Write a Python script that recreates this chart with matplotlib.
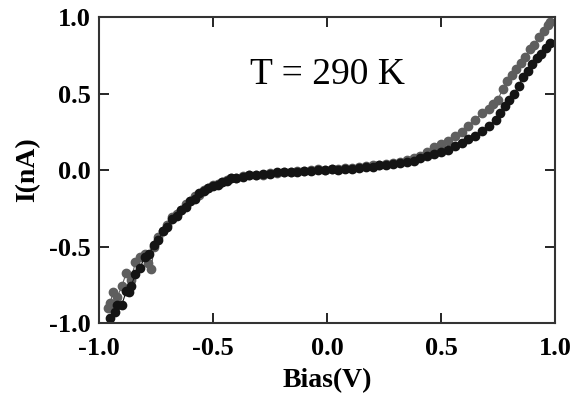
import numpy as np
import matplotlib.pyplot as plt

# I-V data (bias in V, current in nA)
bias_black = [-0.95, -0.93, -0.92, -0.90, -0.88, -0.87, -0.86, -0.84, -0.82, -0.80, -0.78, -0.76,
              -0.74, -0.72, -0.70, -0.68, -0.66, -0.64, -0.62, -0.60, -0.58, -0.56,
              -0.54, -0.52, -0.50, -0.48, -0.46, -0.44, -0.42, -0.40, -0.37, -0.34,
              -0.31, -0.28, -0.25, -0.22, -0.19, -0.16, -0.13, -0.10, -0.07, -0.04,
              -0.01, 0.02, 0.05, 0.08, 0.11, 0.14, 0.17, 0.20, 0.23, 0.26,
              0.29, 0.32, 0.35, 0.38, 0.41, 0.44, 0.47, 0.50, 0.53, 0.56,
              0.59, 0.62, 0.65, 0.68, 0.71, 0.74, 0.76, 0.78, 0.80, 0.82, 0.84, 0.86,
              0.88, 0.90, 0.92, 0.94, 0.96, 0.98]
curr_black = [-0.97, -0.93, -0.88, -0.88, -0.79, -0.80, -0.76, -0.68, -0.64, -0.57, -0.55, -0.49,
              -0.46, -0.40, -0.37, -0.32, -0.30, -0.26, -0.24, -0.20, -0.19, -0.15,
              -0.14, -0.12, -0.105, -0.095, -0.075, -0.07, -0.055, -0.05, -0.045, -0.035,
              -0.035, -0.025, -0.025, -0.015, -0.015, -0.01, -0.01, -0.005, -0.005, 0.0,
              0.0, 0.005, 0.0, 0.01, 0.01, 0.012, 0.02, 0.022, 0.03, 0.032,
              0.04, 0.047, 0.054, 0.062, 0.077, 0.09, 0.105, 0.115, 0.13, 0.155,
              0.175, 0.20, 0.225, 0.255, 0.29, 0.33, 0.37, 0.42, 0.46, 0.50, 0.55, 0.61,
              0.65, 0.69, 0.73, 0.76, 0.80, 0.83]

bias_gray = [-0.96, -0.95, -0.94, -0.92, -0.90, -0.88, -0.86, -0.84, -0.82, -0.80,
             -0.785, -0.77, -0.76, -0.74, -0.72, -0.70, -0.68, -0.66, -0.64, -0.62,
             -0.60, -0.58, -0.56, -0.54, -0.52, -0.50, -0.48, -0.46, -0.44, -0.42,
             -0.40, -0.37, -0.34, -0.31, -0.28, -0.25, -0.22, -0.19, -0.16, -0.13,
             -0.10, -0.07, -0.04, -0.01, 0.02, 0.05, 0.08, 0.11, 0.14, 0.17,
             0.20, 0.23, 0.26, 0.29, 0.32, 0.35, 0.38, 0.41, 0.44, 0.47,
             0.50, 0.53, 0.56, 0.59, 0.62, 0.65, 0.68, 0.71, 0.73, 0.75, 0.77,
             0.79, 0.81, 0.83, 0.85, 0.87, 0.89, 0.91, 0.93, 0.95, 0.97, 0.98]
curr_gray = [-0.90, -0.87, -0.80, -0.83, -0.76, -0.67, -0.72, -0.60, -0.57, -0.55,
             -0.61, -0.65, -0.50, -0.44, -0.40, -0.36, -0.31, -0.29, -0.26, -0.22,
             -0.20, -0.17, -0.16, -0.13, -0.115, -0.10, -0.09, -0.075, -0.065, -0.055,
             -0.05, -0.04, -0.035, -0.03, -0.03, -0.02, -0.02, -0.01, -0.01, -0.005,
             -0.005, 0.0, 0.005, 0.0, 0.01, 0.01, 0.015, 0.015, 0.02, 0.025,
             0.03, 0.035, 0.04, 0.045, 0.055, 0.065, 0.08, 0.095, 0.12, 0.15,
             0.17, 0.19, 0.22, 0.25, 0.29, 0.33, 0.37, 0.40, 0.43, 0.46, 0.53,
             0.58, 0.62, 0.66, 0.70, 0.74, 0.79, 0.82, 0.87, 0.91, 0.95, 0.97]

ticks = [-1.0, -0.5, 0.0, 0.5, 1.0]
tick_labels = ['-1.0', '-0.5', '0.0', '0.5', '1.0']

plt.rcParams['font.family'] = ['Liberation Serif', 'DejaVu Serif']

fig = plt.figure(figsize=(5.77, 3.97), dpi=100)
ax = fig.add_axes([0.1716, 0.1864, 0.7903, 0.7706])

ax.plot(bias_gray, curr_gray, '-o', color='#5e5e5e', lw=0.8, ms=6, mec='#5e5e5e')
ax.plot(bias_black, curr_black, '-o', color='#141414', lw=0.8, ms=6, mec='#141414')

ax.set_xlim(-1.0, 1.0)
ax.set_ylim(-1.0, 1.0)
ax.set_xticks(ticks)
ax.set_yticks(ticks)
ax.set_xticklabels(tick_labels, fontsize=19, fontweight='bold')
ax.set_yticklabels(tick_labels, fontsize=19, fontweight='bold')
ax.tick_params(direction='in', length=7, width=1.2, top=True, right=True, pad=6)
ax.tick_params(axis='x', pad=10)
for s in ax.spines.values():
    s.set_linewidth(1.5)
    s.set_color('#333333')

ax.set_xlabel('Bias(V)', fontsize=20, fontweight='bold', labelpad=6)
ax.set_ylabel('I(nA)', fontsize=20, fontweight='bold', labelpad=6)
ax.text(0.0, 0.62, 'T = 290 K', fontsize=27, ha='center', va='center')

fig.savefig('out.png', dpi=100)
